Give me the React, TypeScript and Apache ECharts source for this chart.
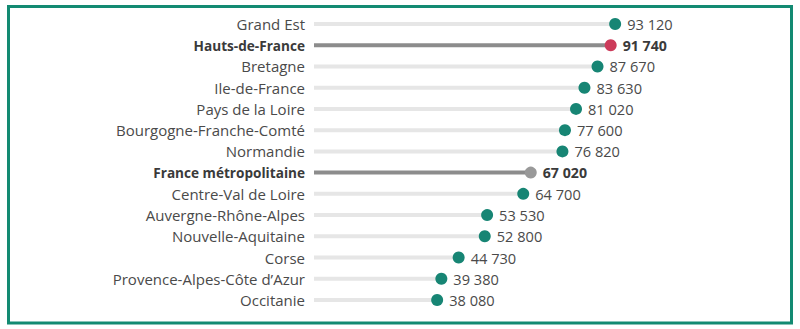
import React, { useEffect, useRef } from "react";
import * as echarts from "echarts";

const categories = [
  "Grand Est",
  "Hauts-de-France",
  "Bretagne",
  "Ile-de-France",
  "Pays de la Loire",
  "Bourgogne-Franche-Comté",
  "Normandie",
  "France métropolitaine",
  "Centre-Val de Loire",
  "Auvergne-Rhône-Alpes",
  "Nouvelle-Aquitaine",
  "Corse",
  "Provence-Alpes-Côte d’Azur",
  "Occitanie",
];
const values = [93120, 91740, 87670, 83630, 81020, 77600, 76820, 67020, 64700, 53530, 52800, 44730, 39380, 38080];
const highlightRegion = "Hauts-de-France";
const highlightTotal = "France métropolitaine";

const TEAL = "#178574";
const RED = "#cc3b5a";
const GREY_DOT = "#999999";
const TRACK = "#e6e6e6";
const TRACK_DARK = "#8c8c8c";
const FONT = "Open Sans";

const fmt = (v: number) => {
  const s = String(v);
  return s.replace(/\B(?=(\d{3})+(?!\d))/g, " ");
};

export default function App() {
  const ref = useRef<HTMLDivElement>(null);
  useEffect(() => {
    if (!ref.current) return;
    const chart = echarts.init(ref.current, null, { renderer: "svg" });
    const isBold = (c: string) => c === highlightRegion || c === highlightTotal;
    chart.setOption({
      animation: false,
      graphic: [
        {
          type: "rect",
          shape: { x: 8.5, y: 6.5, width: 783, height: 316.5 },
          style: { fill: "none", stroke: "#138a72", lineWidth: 3 },
          silent: true,
        },
      ],
      grid: { left: 314, width: 323.4, top: 13.4, height: 297.2, containLabel: false },
      xAxis: {
        type: "value",
        min: 0,
        max: 100000,
        show: false,
      },
      yAxis: {
        type: "category",
        data: categories,
        inverse: true,
        axisLine: { show: false },
        axisTick: { show: false },
        axisLabel: {
          margin: 9,
          fontFamily: FONT,
          fontSize: 15,
          color: "#4a4a4a",
          formatter: (c: string) => (isBold(c) ? `{b|${c}}` : c),
          rich: {
            b: { fontFamily: FONT, fontSize: 13.6, fontWeight: "bold", color: "#3a3a3a" },
          },
        },
      },
      series: [
        {
          type: "bar",
          barWidth: 4,
          z: 1,
          data: values.map((v, i) => ({
            value: v,
            itemStyle: { color: isBold(categories[i]) ? TRACK_DARK : TRACK },
          })),
        },
        {
          type: "scatter",
          symbolSize: 12,
          z: 3,
          data: values.map((v, i) => {
            const c = categories[i];
            const color = c === highlightRegion ? RED : c === highlightTotal ? GREY_DOT : TEAL;
            return {
              value: [v, c],
              itemStyle: { color, opacity: 1 },
              label: isBold(c) ? { fontWeight: "bold", fontSize: 14.2, color: "#3a3a3a" } : undefined,
            };
          }),
          label: {
            show: true,
            position: "right",
            distance: 6,
            fontFamily: FONT,
            fontSize: 14.6,
            color: "#4a4a4a",
            formatter: (p: any) => fmt(p.value[0]),
          },
        },
      ],
    });
    return () => chart.dispose();
  }, []);
  return (
    <div
      ref={ref}
      style={{ position: "absolute", left: 0, top: 0, width: 800, height: 329, background: "#ffffff" }}
    />
  );
}
